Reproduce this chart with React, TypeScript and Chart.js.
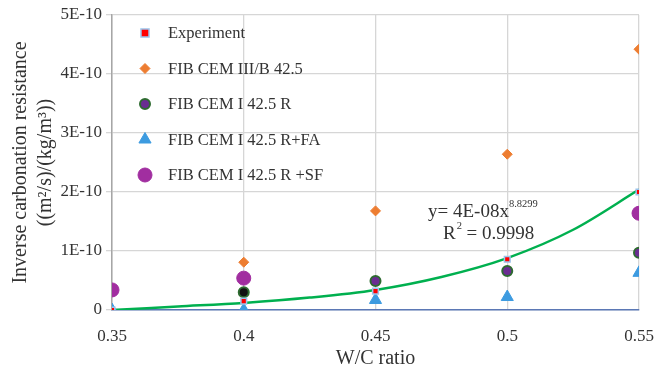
import React, { useEffect, useRef } from "react";
import { Chart, registerables } from "chart.js";

Chart.register(...registerables);

const wcRatio = [0.35, 0.4, 0.45, 0.5, 0.55];
const experiment = [0, 1.5e-11, 3.2e-11, 8.6e-11, 2.0e-10];
const cem3b = [null, 8.1e-11, 1.68e-10, 2.64e-10, 4.42e-10];
const cem1 = [null, 3.0e-11, 4.9e-11, 6.6e-11, 9.7e-11];
const cem1FA = [0, 0, 1.7e-11, 2.2e-11, 6.3e-11];
const cem1SF = [3.4e-11, 5.4e-11, null, null, 1.64e-10];
const trendX = [0.35, 0.375, 0.4, 0.425, 0.45, 0.475, 0.5, 0.525, 0.55];
const trendY = [0, 6e-12, 1.2e-11, 2.1e-11, 3.4e-11, 5.6e-11, 8.8e-11, 1.36e-10, 2.04e-10];
const yTickLabels = ["0", "1E-10", "2E-10", "3E-10", "4E-10", "5E-10"];
const xTickLabels = ["0.35", "0.4", "0.45", "0.5", "0.55"];
const seriesNames = [
  "Experiment",
  "FIB CEM III/B 42.5",
  "FIB CEM I 42.5 R",
  "FIB CEM I 42.5 R+FA",
  "FIB CEM I 42.5 R +SF",
];

const FONT = "'Liberation Serif', 'Times New Roman', serif";

const toPts = (ys: (number | null)[]) =>
  wcRatio.map((x, i) => ({ x, y: ys[i] })).filter((p) => p.y !== null);

function drawPt(ctx: CanvasRenderingContext2D, style: string, x: number, y: number, r: number) {
  ctx.beginPath();
  if (style === "rect") {
    ctx.rect(x - r, y - r, 2 * r, 2 * r);
  } else if (style === "rectRot") {
    ctx.moveTo(x, y - r);
    ctx.lineTo(x + r, y);
    ctx.lineTo(x, y + r);
    ctx.lineTo(x - r, y);
    ctx.closePath();
  } else if (style === "triangle") {
    ctx.moveTo(x, y - r);
    ctx.lineTo(x + r * 0.87, y + r * 0.5);
    ctx.lineTo(x - r * 0.87, y + r * 0.5);
    ctx.closePath();
  } else {
    ctx.arc(x, y, r, 0, Math.PI * 2);
  }
  ctx.fill();
  if (ctx.lineWidth > 0) ctx.stroke();
}

export default function App() {
  const ref = useRef<HTMLCanvasElement | null>(null);
  useEffect(() => {
    if (!ref.current) return;
    const cem1Fill = cem1.filter((v) => v !== null).map((_, i) => (i === 0 ? "#111111" : "#6a2d91"));
    const overlay = {
      id: "overlay",
      afterDraw(chart: any) {
        const ctx = chart.ctx as CanvasRenderingContext2D;
        const area = chart.chartArea;
        ctx.save();
        const lx = area.left + 33;
        const ly0 = area.top + 18;
        const gap = 35.5;
        ctx.font = `16.5px ${FONT}`;
        ctx.textBaseline = "middle";
        ctx.textAlign = "left";
        [1, 2, 3, 4, 5].forEach((di, k) => {
          const ds: any = chart.data.datasets[di];
          const y = ly0 + k * gap;
          const bg = Array.isArray(ds.backgroundColor)
            ? ds.backgroundColor[ds.backgroundColor.length - 1]
            : ds.backgroundColor;
          ctx.fillStyle = bg;
          ctx.strokeStyle = ds.borderColor;
          ctx.lineWidth = ds.pointBorderWidth ?? 1;
          drawPt(ctx, ds.pointStyle, lx, y, ds.pointRadius);
          ctx.fillStyle = "#333333";
          ctx.fillText(seriesNames[k], lx + 23, y + 1);
        });
        ctx.fillStyle = "#333333";
        ctx.textBaseline = "alphabetic";
        ctx.font = `19px ${FONT}`;
        const ex = 428;
        const eb = 217;
        const t1 = "y= 4E-08x";
        ctx.fillText(t1, ex, eb);
        const w1 = ctx.measureText(t1).width;
        ctx.font = `10.5px ${FONT}`;
        ctx.fillText("8.8299", ex + w1, eb - 10);
        ctx.font = `19px ${FONT}`;
        const rx = 443;
        const rb = 239;
        ctx.fillText("R", rx, rb);
        const wr = ctx.measureText("R").width;
        ctx.font = `10.5px ${FONT}`;
        ctx.fillText("2", rx + wr + 1, rb - 10);
        ctx.font = `19px ${FONT}`;
        ctx.fillText(" = 0.9998", rx + wr + 6, rb);
        ctx.restore();
      },
    };
    const chart = new Chart(ref.current, {
      type: "scatter",
      data: {
        datasets: [
          {
            label: "trend",
            data: trendX.map((x, i) => ({ x, y: trendY[i] })),
            showLine: true,
            borderColor: "#00b04f",
            borderWidth: 2.5,
            pointRadius: 0,
            cubicInterpolationMode: "monotone",
            order: 10,
          } as any,
          {
            label: seriesNames[0],
            data: toPts(experiment),
            pointStyle: "rect",
            pointRadius: 4,
            backgroundColor: "#ff0000",
            borderColor: "#9cc3ec",
            pointBorderWidth: 1.5,
            order: 1,
          } as any,
          {
            label: seriesNames[1],
            data: toPts(cem3b),
            pointStyle: "rectRot",
            pointRadius: 5,
            backgroundColor: "#ed7d31",
            borderColor: "#ed7d31",
            pointBorderWidth: 1,
            order: 5,
          } as any,
          {
            label: seriesNames[2],
            data: toPts(cem1),
            pointStyle: "circle",
            pointRadius: 5,
            backgroundColor: cem1Fill,
            borderColor: "#2e6b30",
            pointBorderWidth: 2,
            order: 4,
          } as any,
          {
            label: seriesNames[3],
            data: toPts(cem1FA),
            pointStyle: "triangle",
            pointRadius: 7,
            backgroundColor: "#3d9be0",
            borderColor: "#3d9be0",
            pointBorderWidth: 1,
            order: 2,
          } as any,
          {
            label: seriesNames[4],
            data: toPts(cem1SF),
            pointStyle: "circle",
            pointRadius: 7,
            backgroundColor: "#a12ea0",
            borderColor: "#a12ea0",
            pointBorderWidth: 1,
            order: 6,
          } as any,
        ],
      },
      options: {
        animation: false,
        responsive: true,
        maintainAspectRatio: false,
        layout: { padding: { top: 15, right: 16, left: 0, bottom: 0 } },
        plugins: { legend: { display: false }, tooltip: { enabled: false } },
        scales: {
          x: {
            type: "linear",
            min: 0.35,
            max: 0.55,
            afterBuildTicks: (axis: any) => {
              axis.ticks = wcRatio.map((v) => ({ value: v }));
            },
            afterFit: (axis: any) => {
              axis.height = 63;
              axis.paddingLeft = 0;
              axis.paddingRight = 0;
            },
            ticks: {
              callback: (_v: any, i: number) => xTickLabels[i],
              font: { family: FONT, size: 17 },
              color: "#333333",
              padding: 16,
            },
            grid: { color: "#d6d6d6", lineWidth: 1.3, drawTicks: false },
            border: { color: "#5b78b5", width: 1.5 },
            title: {
              display: true,
              text: "W/C ratio",
              font: { family: FONT, size: 20 },
              color: "#333333",
              padding: { top: 4, bottom: 2 },
            },
          },
          y: {
            type: "linear",
            min: 0,
            max: 5e-10,
            afterBuildTicks: (axis: any) => {
              axis.ticks = yTickLabels.map((_, i) => ({ value: i * 1e-10 }));
            },
            afterFit: (axis: any) => {
              axis.width = 112;
            },
            ticks: {
              callback: (_v: any, i: number) => yTickLabels[i],
              font: { family: FONT, size: 17 },
              color: "#333333",
              padding: 4,
            },
            grid: { color: "#d6d6d6", lineWidth: 1.3, tickLength: 6 },
            border: { color: "#a6a6a6", width: 1.5 },
            title: {
              display: true,
              text: ["Inverse carbonation resistance", "((m\u00b2/s)/(kg/m\u00b3))"],
              font: { family: FONT, size: 20, lineHeight: 1.25 },
              color: "#333333",
              padding: { top: 8, bottom: 0 },
            },
          },
        },
      },
      plugins: [overlay],
    });
    return () => chart.destroy();
  }, []);
  return (
    <div style={{ position: "fixed", left: 0, top: 0, width: 655, height: 373, background: "#fff" }}>
      <canvas ref={ref} />
    </div>
  );
}
